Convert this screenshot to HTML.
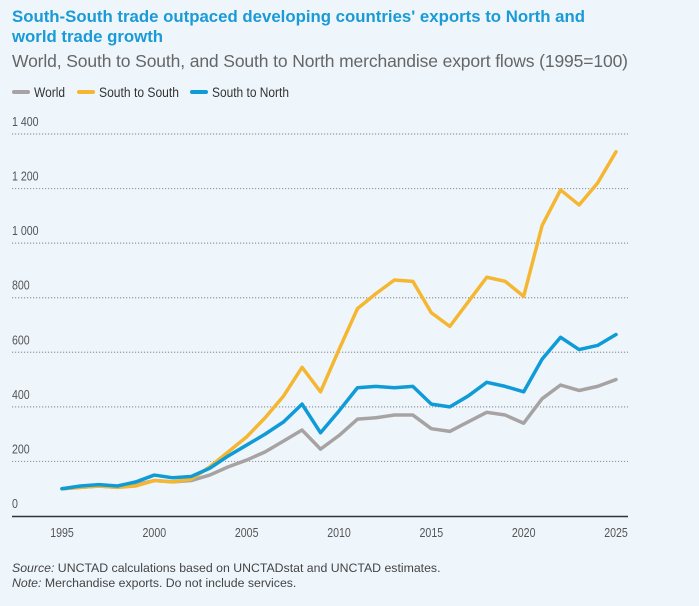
<!DOCTYPE html>
<html><head><meta charset="utf-8"><style>
body{margin:0;background:#eef6fc;width:699px;height:601px;overflow:hidden;font-family:"Liberation Sans",sans-serif;}
</style></head><body>
<svg width="699" height="601" xmlns="http://www.w3.org/2000/svg">
<rect width="699" height="601" fill="#eef6fc"/>
<text x="12" y="22" font-size="16.8" font-weight="bold" fill="#1a9ad6" textLength="573">South-South trade outpaced developing countries' exports to North and</text>
<text x="12" y="42" font-size="16.8" font-weight="bold" fill="#1a9ad6">world trade growth</text>
<text x="12" y="67" font-size="17.5" fill="#666" textLength="616">World, South to South, and South to North merchandise export flows (1995=100)</text>
<g id="legend"></g>
<g id="grid"></g><g id="lines"></g>
<text x="12" y="572" font-size="12.3" fill="#444"><tspan font-style="italic">Source:</tspan> UNCTAD calculations based on UNCTADstat and UNCTAD estimates.</text>
<text x="12" y="587" font-size="12.3" fill="#444"><tspan font-style="italic">Note:</tspan> Merchandise exports. Do not include services.</text>
</svg>
<script>
const years=[];for(let y=1995;y<=2025;y++)years.push(y);
const southSouth=[100,105,110,105,110,130,125,135,180,235,290,360,440,545,455,610,760,815,865,860,745,695,785,875,860,805,1065,1195,1140,1220,1335];
const southNorth=[100,110,115,110,125,150,140,145,175,220,260,300,345,410,305,385,470,475,470,475,410,400,440,490,475,455,575,655,610,625,665];
const world=[100,105,110,105,115,130,125,130,150,180,205,235,275,315,245,295,355,360,370,370,320,310,345,380,370,340,430,480,460,475,500];
const yTicks=[0,200,400,600,800,1000,1200,1400];
const yTickLabels=["0","200","400","600","800","1 000","1 200","1 400"];
const xTicks=[1995,2000,2005,2010,2015,2020,2025];
const seriesNames=["World","South to South","South to North"];
const NS="http://www.w3.org/2000/svg";
const x=v=>62+(v-1995)*(616-62)/30;
const y=v=>516-v*(516-134)/1400;
function mk(tag,attrs,parent,txt){const e=document.createElementNS(NS,tag);for(const k in attrs)e.setAttribute(k,attrs[k]);if(txt!==undefined)e.textContent=txt;parent.appendChild(e);return e;}
const grid=document.getElementById('grid'),lines=document.getElementById('lines'),leg=document.getElementById('legend');
yTicks.forEach((t,i)=>{
  if(t>0){const l=mk('line',{x1:12,x2:628,y1:y(t),y2:y(t),stroke:'#999','stroke-width':1.2,'stroke-dasharray':'1.2 1.8'},grid);
  
  }
  const tx=mk('text',{x:12,y:y(t)-8,'font-size':12.5,fill:'#555',transform:'translate(12,0) scale(0.85,1) translate(-12,0)'},grid,yTickLabels[i]);
  
  
});
const ax=mk('line',{x1:12,x2:628,y1:516.5,y2:516.5,stroke:'#333','stroke-width':1.5},grid);


xTicks.forEach(t=>{const tx=mk('text',{x:0,y:537,'font-size':12.5,fill:'#555','text-anchor':'middle',transform:'translate('+x(t)+',0) scale(0.85,1)'},grid,String(t));
  
  });
const series=[[world,'#a8a3a3','world-line'],[southSouth,'#f5b731','south-to-south-line'],[southNorth,'#0f9bd7','south-to-north-line']];
series.forEach(([d,c,n])=>{
  const p=mk('polyline',{points:d.map((v,i)=>x(years[i])+','+y(v)).join(' '),fill:'none',stroke:c,'stroke-width':3.5,'stroke-linejoin':'round','stroke-linecap':'round'},lines);
  
  
});
const legX=[14,79,192];
const legW=[31,80,77];
series.forEach(([d,c,n],i)=>{
  const g=mk('g',{},leg);
  
  
  mk('line',{x1:legX[i],x2:legX[i]+14,y1:92,y2:92,stroke:c,'stroke-width':4,'stroke-linecap':'round'},g);
  mk('text',{x:legX[i]+20,y:97,'font-size':13.5,fill:'#333',textLength:legW[i],lengthAdjust:'spacingAndGlyphs'},g,seriesNames[i]);
});
</script>
</body></html>
